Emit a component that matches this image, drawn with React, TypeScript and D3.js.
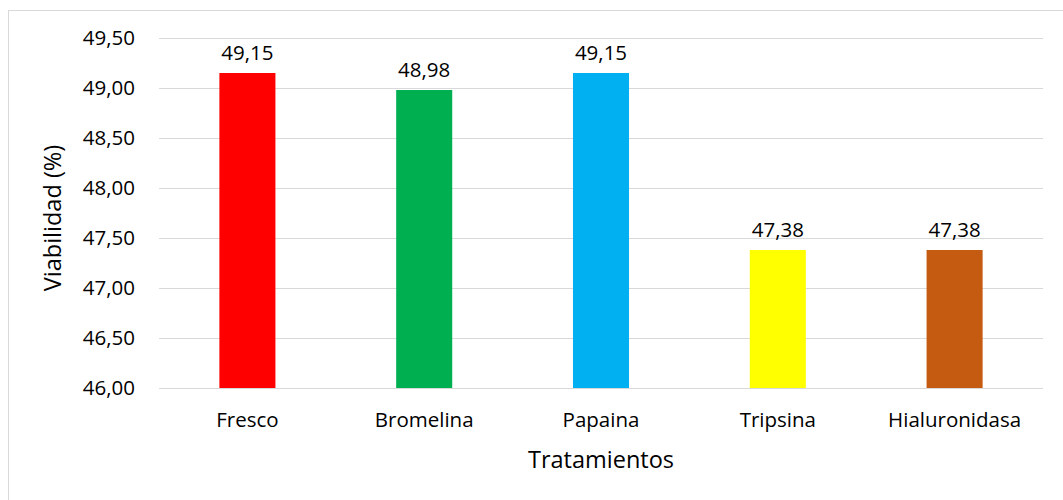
import React from "react";
import * as d3 from "d3";

const categories = ["Fresco", "Bromelina", "Papaina", "Tripsina", "Hialuronidasa"];
const values = [49.15, 48.98, 49.15, 47.38, 47.38];
const colors = ["#FF0000", "#00B050", "#00B0F0", "#FFFF00", "#C55A11"];
const yTicks = [46, 46.5, 47, 47.5, 48, 48.5, 49, 49.5];

const W = 1063;
const H = 500;
const FONT = "'Open Sans', sans-serif";

export default function App() {
  const left = 159;
  const right = 1043;
  const top = 38;
  const bottom = 388;
  const x = d3.scaleBand<string>().domain(categories).range([left, right]).paddingInner(0).paddingOuter(0);
  const y = d3.scaleLinear().domain([46, 49.5]).range([bottom, top]);
  const barW = x.bandwidth() * 0.317;
  const fmt = (v: number) => v.toFixed(2).replace(".", ",");

  return (
    <svg width={W} height={H} style={{ position: "absolute", left: 0, top: 0 }}>
      <rect x={0} y={0} width={W} height={H} fill="#fff" />
      <rect x={8.5} y={10.5} width={1060} height={500} fill="#fff" stroke="#D9D9D9" strokeWidth={1} />
      {yTicks.map((t) => (
        <g key={t}>
          <line x1={left} x2={right} y1={Math.round(y(t)) + 0.5} y2={Math.round(y(t)) + 0.5} stroke="#D9D9D9" strokeWidth={1} />
          <text x={135} y={y(t)} dy="0.35em" textAnchor="end" fontFamily={FONT} fontSize={20.5} fill="#000">
            {fmt(t)}
          </text>
        </g>
      ))}
      {categories.map((c, i) => {
        const cx = (x(c) as number) + x.bandwidth() / 2;
        return (
          <g key={c}>
            <rect x={cx - barW / 2} y={y(values[i])} width={barW} height={bottom - y(values[i])} fill={colors[i]} />
            <text x={cx} y={y(values[i]) - 13} textAnchor="middle" fontFamily={FONT} fontSize={20.5} fill="#000">
              {fmt(values[i])}
            </text>
            <text x={cx} y={427} textAnchor="middle" fontFamily={FONT} fontSize={20.5} fill="#000">
              {c}
            </text>
          </g>
        );
      })}
      <line x1={left} x2={right} y1={bottom + 0.5} y2={bottom + 0.5} stroke="#D9D9D9" strokeWidth={1} />
      <text x={(left + right) / 2} y={468} textAnchor="middle" fontFamily={FONT} fontSize={23.5} fill="#000">
        Tratamientos
      </text>
      <text transform={`translate(61, ${(top + bottom) / 2 + 5}) rotate(-90)`} textAnchor="middle" fontFamily={FONT} fontSize={23.5} fill="#000">
        Viabilidad (%)
      </text>
    </svg>
  );
}
